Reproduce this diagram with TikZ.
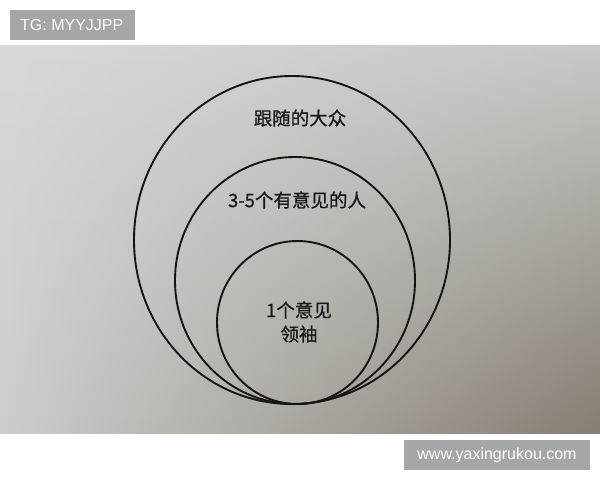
\documentclass[tikz,border=0pt]{standalone}
\usepackage{fontspec}
\usetikzlibrary{fadings}
\setmainfont{Liberation Sans}
\newfontfamily\cjk[FakeBold=0.7]{Noto Sans CJK SC}
\definecolor{paperTL}{RGB}{216,217,217}
\definecolor{paperBL}{RGB}{206,205,203}
\definecolor{paperTR}{RGB}{200,200,197}
\definecolor{paperBR}{RGB}{133,126,114}
\definecolor{tagGray}{RGB}{166,166,166}
\tikzfading[name=fadeRight, left color=transparent!100, right color=transparent!0]
\begin{document}
\begin{tikzpicture}[x=1pt,y=-1pt,
  ring/.style={draw=black!92,line width=1.9pt},
  cjklabel/.style={font=\cjk\fontsize{18.5}{22}\selectfont,text=black!90,inner sep=0pt,align=center},
  tagtext/.style={text=white,font=\fontsize{16}{18}\selectfont,inner sep=0pt}]
\useasboundingbox (0,0) rectangle (600,480);
\fill[white] (0,0) rectangle (600,480);
% paper photo
\shade[top color=paperTL,bottom color=paperBL] (0,45) rectangle (600,433);
\shade[top color=paperTR,bottom color=paperBR,path fading=fadeRight] (0,45) rectangle (600,433);
% circles
\draw[ring] (292,240) ellipse [x radius=158,y radius=164];
\draw[ring] (295,280.5) ellipse [x radius=120,y radius=123.5];
\draw[ring] (297.5,322.5) ellipse [x radius=80.5,y radius=81.5];
% labels
\node[cjklabel] (crowd) at (300,118) {跟随的大众};
\node[cjklabel] (few) at (297,200) {3-5个有意见的人};
\node[cjklabel] (lead) at (299,322) {1个意见\\[2pt]领袖};
% watermark boxes
\fill[tagGray] (10,10) rectangle (135,40);
\node[tagtext,anchor=west] (tg) at (20,25) {TG: MYYJJPP};
\fill[tagGray] (404,440) rectangle (590,470);
\node[tagtext] (url) at (497,455) {www.yaxingrukou.com};
\end{tikzpicture}
\end{document}
